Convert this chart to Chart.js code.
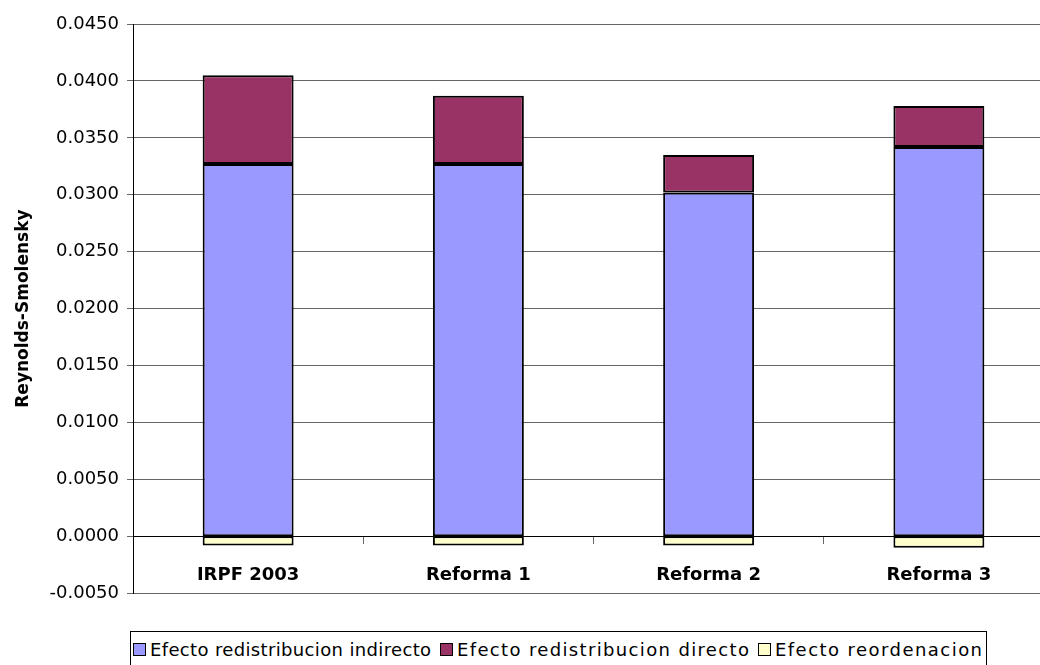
<!DOCTYPE html>
<html>
<head>
<meta charset="utf-8">
<script src="https://cdn.jsdelivr.net/npm/chart.js@4.4.1/dist/chart.umd.min.js"></script>
<style>
  html, body { margin: 0; padding: 0; background: #fff; overflow: hidden; }
  #wrap { position: relative; width: 1060px; height: 665px; }
  #chartBox { position: absolute; left: 0; top: 0; width: 1060px; height: 612px; }
  #legend {
    position: absolute; left: 130px; top: 631px; width: 857px; height: 40px;
    border: 1px solid #000; box-sizing: border-box;
    font-family: "DejaVu Sans", sans-serif; font-size: 18px; color: #000;
    white-space: nowrap;
  }
  #legend .item { position: absolute; top: 7px; }
  #legend .item:nth-child(1) { left: 2px; letter-spacing: 0.35px; }
  #legend .item:nth-child(2) { left: 309px; letter-spacing: 1.35px; }
  #legend .item:nth-child(3) { left: 627px; letter-spacing: 1.45px; }
  #legend .sw { display: inline-block; width: 11px; height: 11px; border: 1px solid #000; margin-right: 4px; vertical-align: 0px; }
</style>
</head>
<body>
<div id="wrap">
  <div id="chartBox"><canvas id="rsChart"></canvas></div>
  <div id="legend"></div>
</div>
<script>
const categories = ['IRPF 2003', 'Reforma 1', 'Reforma 2', 'Reforma 3'];
const indirecto = [0.0327, 0.0327, 0.0302, 0.0342];
const directo = [0.0078, 0.0060, 0.0033, 0.0036];
const reordenacion = [-0.0008, -0.0008, -0.0008, -0.0010];
const seriesNames = ['Efecto redistribucion indirecto', 'Efecto redistribucion directo', 'Efecto reordenacion'];
const seriesColors = ['#9999FF', '#993366', '#FFFFCC'];

const font = "'DejaVu Sans', sans-serif";

const datasets = [indirecto, directo, reordenacion].map((vals, i) => ({
  label: seriesNames[i],
  data: vals,
  backgroundColor: seriesColors[i],
  borderColor: '#000',
  borderWidth: 2,
  borderSkipped: false,
  categoryPercentage: 1,
  barPercentage: 0.395
}));

const ctx = document.getElementById('rsChart').getContext('2d');
new Chart(ctx, {
  type: 'bar',
  data: { labels: categories, datasets: datasets },
  options: {
    responsive: true,
    maintainAspectRatio: false,
    animation: false,
    layout: { padding: { top: 24, right: 6, left: 9, bottom: 0 } },
    plugins: { legend: { display: false }, tooltip: { enabled: false } },
    scales: {
      x: {
        stacked: true,
        position: { y: 0 },
        grid: { offset: true, drawOnChartArea: false, tickLength: 7, color: '#666' },
        border: { color: '#000', width: 1 },
        ticks: { color: '#000', padding: 21, font: { family: font, size: 18, weight: 'bold' } }
      },
      y: {
        stacked: true,
        min: -0.005,
        max: 0.045,
        afterFit: (scale) => { scale.width = 124; },
        grid: { color: '#666', tickLength: 6 },
        border: { color: '#000', width: 1 },
        ticks: {
          stepSize: 0.005,
          color: '#000',
          padding: 8,
          font: { family: font, size: 18 },
          callback: (v) => (Math.abs(v) < 1e-9 ? 0 : Number(v)).toFixed(4)
        },
        title: {
          display: true,
          text: 'Reynolds-Smolensky',
          color: '#000',
          font: { family: font, size: 17, weight: 'bold' }
        }
      }
    }
  }
});

const legend = document.getElementById('legend');
seriesNames.forEach((name, i) => {
  const item = document.createElement('span');
  item.className = 'item';
  const sw = document.createElement('span');
  sw.className = 'sw';
  sw.style.background = seriesColors[i];
  item.appendChild(sw);
  item.appendChild(document.createTextNode(name));
  legend.appendChild(item);
});
</script>
</body>
</html>
